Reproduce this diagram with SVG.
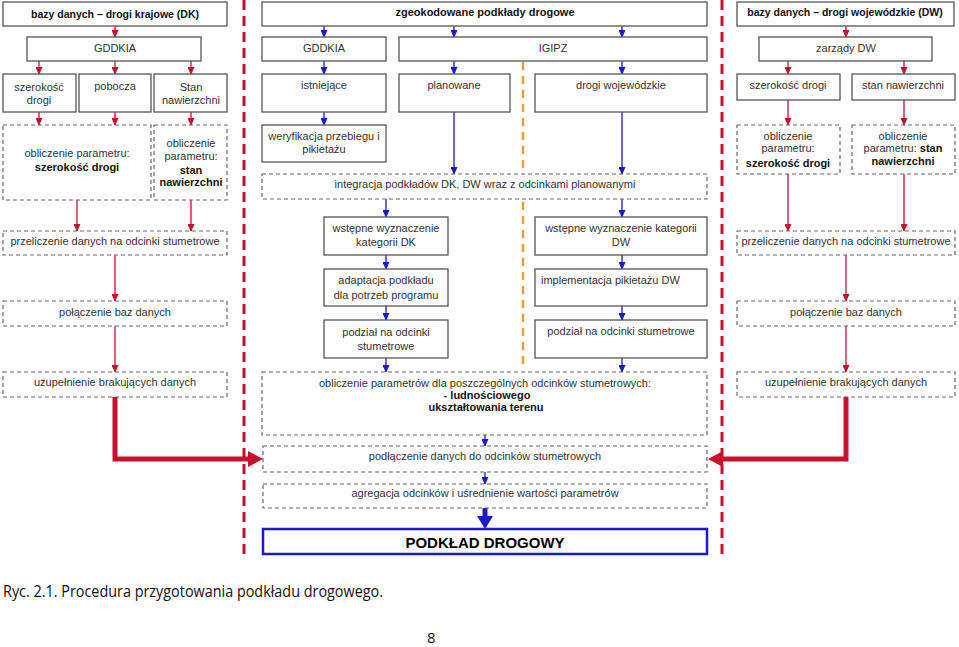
<svg xmlns="http://www.w3.org/2000/svg" width="959" height="647" viewBox="0 0 959 647">
<style>
.b{fill:#fff;stroke:#555;stroke-width:1.3}
.d{fill:#fff;stroke:#666;stroke-width:1.2;stroke-dasharray:4,3}
text{font-family:"Liberation Sans",Arial,sans-serif;font-size:11px;fill:#333}
.c{text-anchor:middle}
.t{font-weight:bold;fill:#111}
.r{stroke:#c8102e;stroke-width:1.3;fill:none}
.u{stroke:#1a1acc;stroke-width:1.3;fill:none}
</style>
<defs>
<marker id="ar" markerWidth="8" markerHeight="7" refX="7" refY="3.5" orient="auto" markerUnits="userSpaceOnUse"><path d="M0,0 L8,3.5 L0,7 Z" fill="#c8102e"/></marker>
<marker id="au" markerWidth="8" markerHeight="7" refX="7" refY="3.5" orient="auto" markerUnits="userSpaceOnUse"><path d="M0,0 L8,3.5 L0,7 Z" fill="#1a1acc"/></marker>
</defs>
<rect width="959" height="647" fill="#fff"/>
<g id="separators">
<line x1="244" y1="0" x2="244" y2="556" stroke="#c8102e" stroke-width="3" stroke-dasharray="10,6"/>
<line x1="722" y1="0" x2="722" y2="556" stroke="#c8102e" stroke-width="3" stroke-dasharray="10,6"/>
<line x1="523" y1="62" x2="523" y2="370" stroke="#f0a030" stroke-width="2.5" stroke-dasharray="8,6"/>
</g>
<g id="connectors">
<line class="r" x1="115" y1="26" x2="115" y2="37" marker-end="url(#ar)"/>
<line class="r" x1="39" y1="61" x2="39" y2="74" marker-end="url(#ar)"/>
<line class="r" x1="115" y1="61" x2="115" y2="74" marker-end="url(#ar)"/>
<line class="r" x1="191" y1="61" x2="191" y2="74" marker-end="url(#ar)"/>
<line class="r" x1="39" y1="112" x2="39" y2="125" marker-end="url(#ar)"/>
<line class="r" x1="115" y1="112" x2="115" y2="125" marker-end="url(#ar)"/>
<line class="r" x1="191" y1="112" x2="191" y2="125" marker-end="url(#ar)"/>
<line class="r" x1="77" y1="200" x2="77" y2="231" marker-end="url(#ar)"/>
<line class="r" x1="191" y1="200" x2="191" y2="231" marker-end="url(#ar)"/>
<line class="r" x1="115" y1="255" x2="115" y2="301" marker-end="url(#ar)"/>
<line class="r" x1="115" y1="326" x2="115" y2="372" marker-end="url(#ar)"/>
<polyline points="115,397 115,459 249,459" fill="none" stroke="#c8102e" stroke-width="5"/>
<path d="M248,451 L263,459 L248,467 Z" fill="#c8102e"/>
<line class="r" x1="846" y1="26" x2="846" y2="37" marker-end="url(#ar)"/>
<line class="r" x1="788" y1="61" x2="788" y2="74" marker-end="url(#ar)"/>
<line class="r" x1="904" y1="61" x2="904" y2="74" marker-end="url(#ar)"/>
<line class="r" x1="788" y1="100" x2="788" y2="125" marker-end="url(#ar)"/>
<line class="r" x1="904" y1="100" x2="904" y2="125" marker-end="url(#ar)"/>
<line class="r" x1="788" y1="174" x2="788" y2="231" marker-end="url(#ar)"/>
<line class="r" x1="904" y1="174" x2="904" y2="231" marker-end="url(#ar)"/>
<line class="r" x1="846" y1="255" x2="846" y2="301" marker-end="url(#ar)"/>
<line class="r" x1="846" y1="326" x2="846" y2="372" marker-end="url(#ar)"/>
<polyline points="846,397 846,459 721,459" fill="none" stroke="#c8102e" stroke-width="5"/>
<path d="M723,451 L708,459 L723,467 Z" fill="#c8102e"/>
<line class="u" x1="324" y1="26" x2="324" y2="37" marker-end="url(#au)"/>
<line class="u" x1="454" y1="26" x2="454" y2="37" marker-end="url(#au)"/>
<line class="u" x1="622" y1="26" x2="622" y2="37" marker-end="url(#au)"/>
<line class="u" x1="324" y1="61" x2="324" y2="74" marker-end="url(#au)"/>
<line class="u" x1="454" y1="61" x2="454" y2="74" marker-end="url(#au)"/>
<line class="u" x1="622" y1="61" x2="622" y2="74" marker-end="url(#au)"/>
<line class="u" x1="324" y1="112" x2="324" y2="125" marker-end="url(#au)"/>
<line class="u" x1="454" y1="112" x2="454" y2="174" marker-end="url(#au)"/>
<line class="u" x1="622" y1="112" x2="622" y2="174" marker-end="url(#au)"/>
<line class="u" x1="386" y1="199" x2="386" y2="217" marker-end="url(#au)"/>
<line class="u" x1="622" y1="199" x2="622" y2="217" marker-end="url(#au)"/>
<line class="u" x1="386" y1="255" x2="386" y2="269" marker-end="url(#au)"/>
<line class="u" x1="622" y1="255" x2="622" y2="269" marker-end="url(#au)"/>
<line class="u" x1="386" y1="306" x2="386" y2="320" marker-end="url(#au)"/>
<line class="u" x1="622" y1="306" x2="622" y2="320" marker-end="url(#au)"/>
<line class="u" x1="386" y1="358" x2="386" y2="372" marker-end="url(#au)"/>
<line class="u" x1="622" y1="358" x2="622" y2="372" marker-end="url(#au)"/>
<line class="u" x1="485" y1="435" x2="485" y2="446" marker-end="url(#au)"/>
<line class="u" x1="485" y1="472" x2="485" y2="484" marker-end="url(#au)"/>
<rect x="482.5" y="508" width="5" height="10" fill="#1a1acc"/>
<path d="M477,516 L493,516 L485,529 Z" fill="#1a1acc"/>
</g>
<g id="n-dk-title"><rect class="b" x="3" y="2" width="224" height="24"/><text class="c t" x="115" y="18" style="font-size:10.5px">bazy danych – drogi krajowe (DK)</text></g>
<g id="n-dk-gddkia"><rect class="b" x="27" y="37" width="174" height="24"/><text class="c" x="115" y="52">GDDKIA</text></g>
<g id="n-dk-szer"><rect class="b" x="3" y="74" width="73" height="38"/><text class="c" x="39" y="91">szerokość</text><text class="c" x="39" y="104">drogi</text></g>
<g id="n-dk-pob"><rect class="b" x="79" y="74" width="72" height="38"/><text class="c" x="115" y="90">pobocza</text></g>
<g id="n-dk-stan"><rect class="b" x="154" y="74" width="73" height="38"/><text class="c" x="191" y="91">Stan</text><text class="c" x="191" y="104">nawierzchni</text></g>
<g id="n-dk-obl1"><rect class="d" x="3" y="125" width="148" height="75"/><text class="c" x="77" y="157">obliczenie parametru:</text><text class="c t" x="77" y="171">szerokość drogi</text></g>
<g id="n-dk-obl2"><rect class="d" x="154" y="125" width="73" height="75"/><text class="c" x="191" y="147">obliczenie</text><text class="c" x="191" y="160">parametru:</text><text class="c t" x="191" y="174">stan</text><text class="c t" x="191" y="186">nawierzchni</text></g>
<g id="n-dk-przel"><rect class="d" x="3" y="231" width="224" height="24"/><text class="c" x="115" y="245">przeliczenie danych na odcinki stumetrowe</text></g>
<g id="n-dk-pol"><rect class="d" x="3" y="301" width="224" height="25"/><text class="c" x="115" y="316">połączenie baz danych</text></g>
<g id="n-dk-uzup"><rect class="d" x="3" y="372" width="224" height="25"/><text class="c" x="115" y="386">uzupełnienie brakujących danych</text></g>
<g id="n-geo"><rect class="b" x="262" y="2" width="445" height="24"/><text class="c t" x="485" y="16">zgeokodowane podkłady drogowe</text></g>
<g id="n-m-gddkia"><rect class="b" x="262" y="37" width="124" height="24"/><text class="c" x="324" y="52">GDDKIA</text></g>
<g id="n-igipz"><rect class="b" x="399" y="37" width="308" height="24"/><text class="c" x="553" y="52">IGIPZ</text></g>
<g id="n-ist"><rect class="b" x="262" y="74" width="124" height="38"/><text class="c" x="324" y="89">istniejące</text></g>
<g id="n-plan"><rect class="b" x="399" y="74" width="111" height="38"/><text class="c" x="454" y="89">planowane</text></g>
<g id="n-dw-roads"><rect class="b" x="535" y="74" width="172" height="38"/><text class="c" x="621" y="89">drogi wojewódzkie</text></g>
<g id="n-wer"><rect class="b" x="262" y="125" width="124" height="37"/><text class="c" x="324" y="140">weryfikacja przebiegu i</text><text class="c" x="324" y="153">pikietażu</text></g>
<g id="n-integ"><rect class="d" x="262" y="174" width="445" height="25"/><text class="c" x="485" y="188">integracja podkładów DK, DW wraz z odcinkami planowanymi</text></g>
<g id="n-wst-dk"><rect class="b" x="324" y="217" width="124" height="38"/><text class="c" x="386" y="232">wstępne wyznaczenie</text><text class="c" x="386" y="246">kategorii DK</text></g>
<g id="n-adapt"><rect class="b" x="324" y="269" width="124" height="37"/><text class="c" x="386" y="284">adaptacja podkładu</text><text class="c" x="386" y="299">dla potrzeb programu</text></g>
<g id="n-podz-dk"><rect class="b" x="324" y="320" width="124" height="38"/><text class="c" x="386" y="336">podział na odcinki</text><text class="c" x="386" y="350">stumetrowe</text></g>
<g id="n-wst-dw"><rect class="b" x="535" y="217" width="172" height="38"/><text class="c" x="621" y="232">wstępne wyznaczenie kategorii</text><text class="c" x="621" y="246">DW</text></g>
<g id="n-impl"><rect class="b" x="535" y="269" width="172" height="37"/><text x="541" y="284">implementacja pikietażu DW</text></g>
<g id="n-podz-dw"><rect class="b" x="535" y="320" width="172" height="38"/><text class="c" x="621" y="335">podział na odcinki stumetrowe</text></g>
<g id="n-oblparam"><rect class="d" x="262" y="372" width="445" height="63"/><text class="c" x="485" y="387">obliczenie parametrów dla poszczególnych odcinków stumetrowych:</text><text class="c t" x="487" y="399">- ludnościowego</text><text class="c t" x="486" y="411">ukształtowania terenu</text></g>
<g id="n-podl"><rect class="d" x="263" y="446" width="444" height="26"/><text class="c" x="485" y="460">podłączenie danych do odcinków stumetrowych</text></g>
<g id="n-agr"><rect class="d" x="263" y="484" width="444" height="24"/><text class="c" x="485" y="497">agregacja odcinków i uśrednienie wartości parametrów</text></g>
<g id="n-final"><rect x="263" y="529" width="444" height="25" fill="#fff" stroke="#1a1acc" stroke-width="2.5"/><text class="c t" x="485" y="548" style="font-size:15px;fill:#000">PODKŁAD DROGOWY</text></g>
<g id="n-dw-title"><rect class="b" x="737" y="2" width="217" height="24"/><text class="c t" x="845" y="16" style="font-size:10.5px">bazy danych – drogi wojewódzkie (DW)</text></g>
<g id="n-zarz"><rect class="b" x="759" y="37" width="173" height="24"/><text class="c" x="846" y="52">zarządy DW</text></g>
<g id="n-dw-szer"><rect class="b" x="737" y="74" width="103" height="26"/><text class="c" x="788" y="89">szerokość drogi</text></g>
<g id="n-dw-stan"><rect class="b" x="852" y="74" width="103" height="26"/><text class="c" x="903" y="89">stan nawierzchni</text></g>
<g id="n-dw-obl1"><rect class="d" x="737" y="125" width="103" height="49"/><text class="c" x="788" y="140">obliczenie</text><text class="c" x="788" y="152">parametru:</text><text class="c t" x="788" y="167">szerokość drogi</text></g>
<g id="n-dw-obl2"><rect class="d" x="852" y="125" width="103" height="49"/><text class="c" x="903" y="140">obliczenie</text><text class="c" x="903" y="152">parametru: <tspan class="t">stan</tspan></text><text class="c t" x="903" y="165">nawierzchni</text></g>
<g id="n-dw-przel"><rect class="d" x="737" y="231" width="218" height="24"/><text class="c" x="846" y="245">przeliczenie danych na odcinki stumetrowe</text></g>
<g id="n-dw-pol"><rect class="d" x="737" y="301" width="218" height="25"/><text class="c" x="846" y="316">połączenie baz danych</text></g>
<g id="n-dw-uzup"><rect class="d" x="737" y="372" width="218" height="25"/><text class="c" x="846" y="386">uzupełnienie brakujących danych</text></g>
<g id="caption"><text x="3" y="597" style="font-family:'Open Sans','Liberation Sans',sans-serif;font-size:17px;fill:#111" textLength="380" lengthAdjust="spacingAndGlyphs">Ryc. 2.1. Procedura przygotowania podkładu drogowego.</text><text x="427" y="643" style="font-family:'Open Sans','Liberation Sans',sans-serif;font-size:15px;fill:#111">8</text></g>
</svg>
